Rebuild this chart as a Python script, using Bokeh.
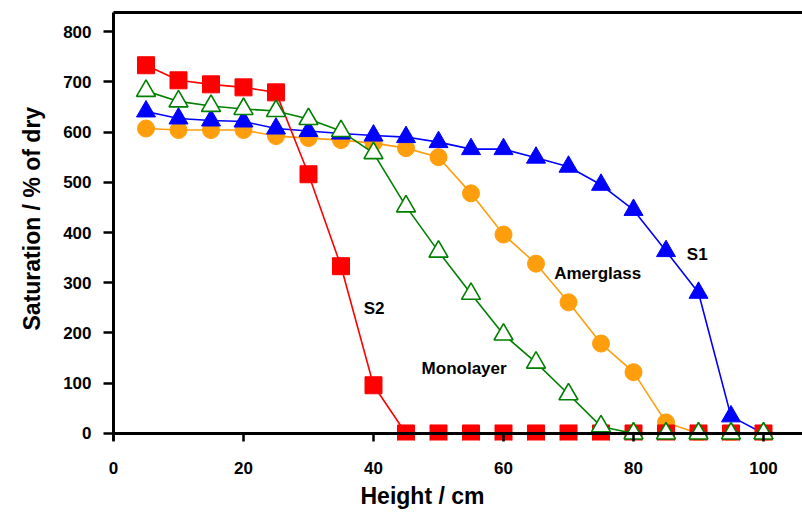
from bokeh.plotting import figure
from bokeh.models import Range1d, FixedTicker, LinearAxis, Label, Span, Title
from bokeh.embed import file_html
from bokeh.resources import INLINE

height_cm = [5, 10, 15, 20, 25, 30, 35, 40, 45, 50, 55, 60, 65, 70, 75, 80, 85, 90, 95, 100]
s1 = [641, 627, 623, 621, 607, 602, 597, 593, 590, 580, 566, 566, 549, 531, 495, 445, 363, 280, 34, 0]
amerglass = [607, 604, 604, 604, 592, 588, 584, 578, 568, 550, 478, 396, 338, 261, 179, 122, 22, 0, 0, 0]
s2 = [733, 703, 695, 689, 679, 516, 333, 96, 0, 0, 0, 0, 0, 0, 0, 0, 0, 0, 0, 0]
monolayer = [682, 661, 652, 646, 642, 626, 602, 558, 452, 362, 278, 197, 141, 78, 14, 0, 0, 0, 0, 0]

x_ticks = [0, 20, 40, 60, 80, 100]
y_ticks = [0, 100, 200, 300, 400, 500, 600, 700, 800]

FONT = "Liberation Sans"
RED = "#FF0000"
BLUE = "#0000FF"
ORANGE = "#FF9E0D"
GREEN = "#008000"

p = figure(width=802, height=513, output_backend="svg", toolbar_location=None,
           x_range=Range1d(0, 106), y_range=Range1d(-14, 838),
           min_border_left=112, min_border_right=0, min_border_top=12, min_border_bottom=73)
p.outline_line_color = None
p.grid.visible = False
p.background_fill_color = "white"

xa = p.xaxis[0]
xa.ticker = FixedTicker(ticks=x_ticks)
xa.axis_line_color = None
ya = p.yaxis[0]
ya.ticker = FixedTicker(ticks=y_ticks)
ya.axis_line_width = 3
ya.axis_line_color = "black"
for ax in (xa, ya):
    ax.major_tick_line_width = 2.5
    ax.major_tick_line_color = "black"
    ax.minor_tick_line_color = None
    ax.major_label_text_font = FONT
    ax.major_label_text_font_style = "bold"
    ax.major_label_text_font_size = "17px"
    ax.major_label_text_color = "black"
xa.major_tick_in = 7
xa.major_tick_out = 1
xa.major_label_standoff = 20
ya.major_tick_in = 0
ya.major_tick_out = 10
ya.major_label_standoff = 12

# the x axis line, at saturation 0
p.add_layout(Span(location=0, dimension="width", line_color="black", line_width=3))

top = LinearAxis(ticker=FixedTicker(ticks=[]), axis_line_width=3, axis_line_color="black",
                 major_tick_out=0, major_tick_in=0, minor_tick_line_color=None,
                 major_label_text_font_size="0px", major_label_standoff=0)
p.add_layout(top, "above")

# series
p.line(height_cm, amerglass, line_color=ORANGE, line_width=1.6)
p.scatter(height_cm, amerglass, marker="circle", size=17, fill_color=ORANGE, line_color=ORANGE)

p.line(height_cm, s1, line_color=BLUE, line_width=1.6)
p.scatter(height_cm, s1, marker="triangle", size=19, fill_color=BLUE, line_color=BLUE)

p.line(height_cm, s2, line_color=RED, line_width=1.6)
p.scatter(height_cm, s2, marker="square", size=17, fill_color=RED, line_color=RED)

p.line(height_cm, monolayer, line_color=GREEN, line_width=1.6)
p.scatter(height_cm, monolayer, marker="triangle", size=19, fill_color="white",
          line_color=GREEN, line_width=1.6)

# series names
for txt, x, y in [("S2", 38.5, 249), ("Monolayer", 47.4, 129), ("Amerglass", 67.8, 319), ("S1", 88.2, 356)]:
    p.add_layout(Label(x=x, y=y, text=txt, text_font=FONT, text_font_style="bold",
                       text_font_size="17px", text_baseline="middle", text_align="left",
                       text_color="black"))

# axis titles
p.add_layout(Title(text="Height / cm", align="left", offset=247, standoff=8,
                   text_font=FONT, text_font_style="bold", text_font_size="23px",
                   text_color="black"), "below")
p.add_layout(Title(text="Saturation  / % of dry", align="left", offset=110, standoff=32,
                   text_font=FONT, text_font_style="bold", text_font_size="23px",
                   text_color="black"), "left")

open("out.html", "w").write(file_html(p, INLINE))
